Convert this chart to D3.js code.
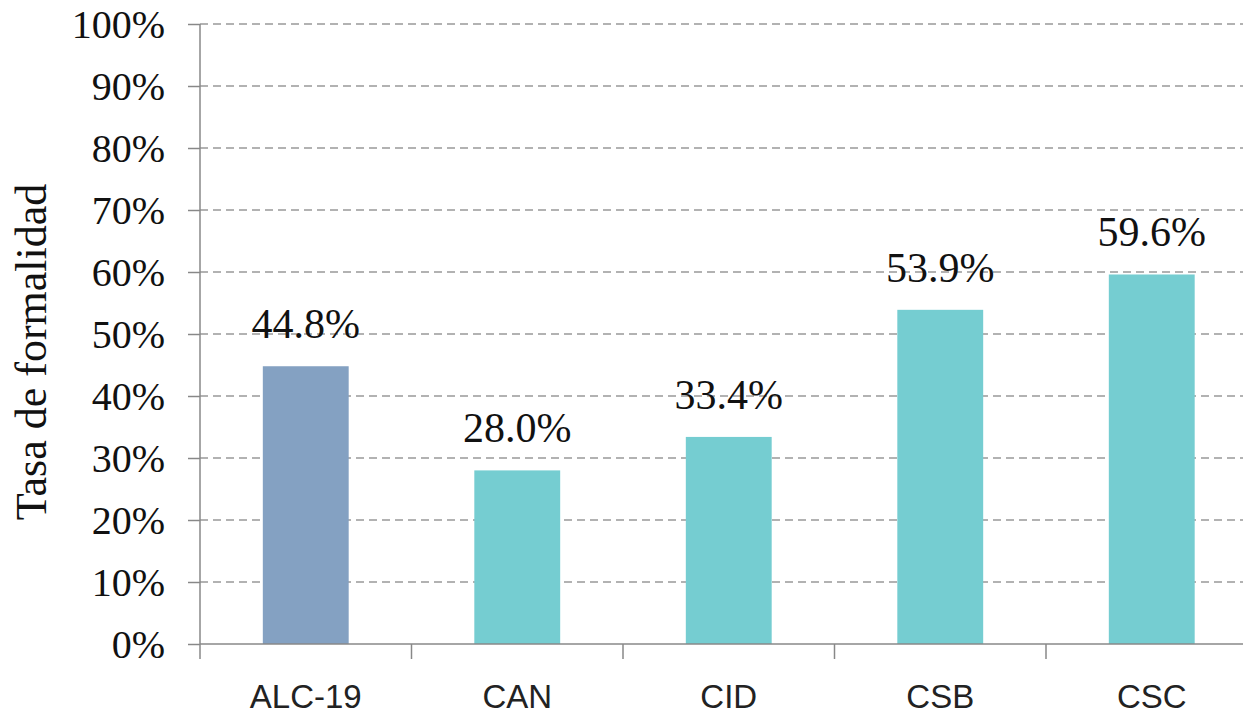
<!DOCTYPE html>
<html>
<head>
<meta charset="utf-8">
<script src="https://cdn.jsdelivr.net/npm/d3@7"></script>
<style>
  body { margin: 0; background: #fff; }
  svg { display: block; }
</style>
</head>
<body>
<svg id="canvas" width="1243" height="715"></svg>
<script>
// chart data
var categories = ["ALC-19", "CAN", "CID", "CSB", "CSC"];
var values = [44.8, 28.0, 33.4, 53.9, 59.6];
var barColors = ["#84a1c2", "#75cdd1", "#75cdd1", "#75cdd1", "#75cdd1"];
var yTicks = [0, 10, 20, 30, 40, 50, 60, 70, 80, 90, 100];
var yTitle = "Tasa de formalidad";

var svg = d3.select("#canvas");

// plot area (right side runs past the picture edge, as in the original)
var plotLeft = 200, plotRight = 1257.5, plotTop = 24, plotBottom = 644;

var x = d3.scaleBand().domain(categories).range([plotLeft, plotRight]).padding(0);
var y = d3.scaleLinear().domain([0, 100]).range([plotBottom, plotTop]);

var bw = x.bandwidth();

// dashed grid
svg.append("g").selectAll("line")
    .data(yTicks.filter(function(t){ return t > 0; }))
    .enter().append("line")
    .attr("x1", plotLeft)
    .attr("x2", 1243)
    .attr("y1", function(d){ return y(d); })
    .attr("y2", function(d){ return y(d); })
    .attr("stroke", "#999")
    .attr("stroke-width", 1.5)
    .attr("stroke-dasharray", "8,5");

// bars
svg.append("g").selectAll("rect")
    .data(values)
    .enter().append("rect")
    .attr("x", function(d, i){ return x(categories[i]) + bw * 0.297; })
    .attr("width", bw * 0.406)
    .attr("y", function(d){ return y(d); })
    .attr("height", function(d){ return y(0) - y(d); })
    .attr("fill", function(d, i){ return barColors[i]; });

// y axis
var yAxis = d3.axisLeft(y)
    .tickValues(yTicks)
    .tickSize(12)
    .tickPadding(23)
    .tickFormat(function(d){ return d + "%"; });

var gy = svg.append("g")
    .attr("transform", "translate(" + plotLeft + ",0)")
    .call(yAxis);
gy.select(".domain").attr("stroke", "#888").attr("stroke-width", 1.5)
    .attr("d", "M0," + y(100) + "V" + y(0));
gy.selectAll(".tick line").attr("stroke", "#888").attr("stroke-width", 1.5);
gy.selectAll(".tick text")
    .attr("font-family", "'Liberation Serif', 'Times New Roman', serif")
    .attr("font-size", 40)
    .attr("fill", "#111")
    .attr("dy", "0.34em");

// x axis
var xAxis = d3.axisBottom(x).tickSize(0).tickFormat("");
var gx = svg.append("g")
    .attr("transform", "translate(0," + plotBottom + ")")
    .call(xAxis);
gx.select(".domain").attr("stroke", "#888").attr("stroke-width", 1.5)
    .attr("d", "M" + plotLeft + ",0H" + plotRight);

var boundaries = categories.map(function(c){ return x(c); }).concat([plotRight]);
gx.selectAll(".sep")
    .data(boundaries)
    .enter().append("line")
    .attr("class", "sep")
    .attr("x1", function(d){ return d; })
    .attr("x2", function(d){ return d; })
    .attr("y1", 0)
    .attr("y2", 15)
    .attr("stroke", "#888")
    .attr("stroke-width", 1.5);

gx.selectAll(".cat")
    .data(categories)
    .enter().append("text")
    .attr("class", "cat")
    .attr("x", function(d){ return x(d) + bw / 2; })
    .attr("y", 64)
    .attr("text-anchor", "middle")
    .attr("font-family", "'Liberation Sans', Arial, sans-serif")
    .attr("font-size", 33)
    .attr("fill", "#222")
    .text(function(d){ return d; });

// value labels
svg.append("g").selectAll("text")
    .data(values)
    .enter().append("text")
    .attr("x", function(d, i){ return x(categories[i]) + bw / 2; })
    .attr("y", function(d){ return y(d) - 28; })
    .attr("text-anchor", "middle")
    .attr("font-family", "'Liberation Serif', 'Times New Roman', serif")
    .attr("font-size", 42)
    .attr("fill", "#111")
    .text(function(d){ return d.toFixed(1) + "%"; });

// y title
svg.append("text")
    .attr("transform", "translate(46,352) rotate(-90)")
    .attr("text-anchor", "middle")
    .attr("font-family", "'Liberation Serif', 'Times New Roman', serif")
    .attr("font-size", 44)
    .attr("fill", "#111")
    .text(yTitle);
</script>
</body>
</html>
